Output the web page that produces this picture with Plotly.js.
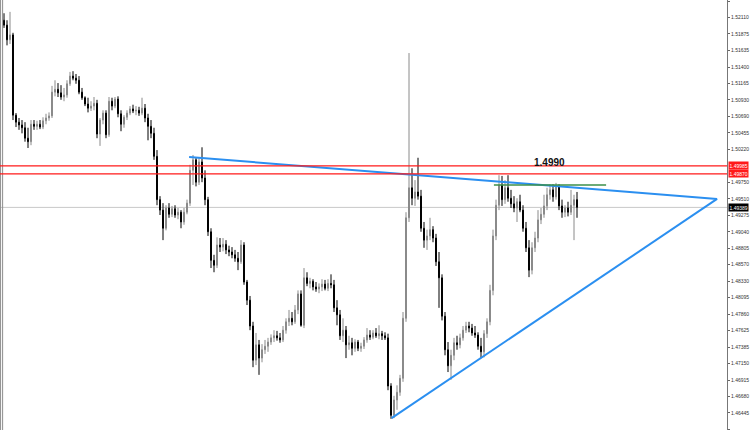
<!DOCTYPE html>
<html>
<head>
<meta charset="utf-8">
<script src="https://cdn.plot.ly/plotly-3.0.1.min.js"></script>
<style>
html,body{margin:0;padding:0;background:#fff;}
#chart{width:750px;height:430px;}
</style>
</head>
<body>
<div id="chart"></div>
<script>
// OHLC candles (price)
const openP = [1.5207,1.5200,1.5179,1.5186,1.5071,1.5061,1.5057,1.5053,1.5038,1.5033,
1.5058,1.5055,1.5058,1.5054,1.5063,1.5067,1.5070,1.5104,1.5108,1.5103,
1.5097,1.5100,1.5116,1.5127,1.5124,1.5121,1.5104,1.5096,1.5087,1.5081,
1.5084,1.5088,1.5044,1.5064,1.5074,1.5043,1.5091,1.5084,1.5094,1.5073,
1.5058,1.5068,1.5074,1.5080,1.5077,1.5078,1.5074,1.5081,1.5067,1.5055,
1.5045,1.5012,1.4950,1.4935,1.4909,1.4938,1.4929,1.4937,1.4928,1.4932,
1.4918,1.4932,1.4945,1.4992,1.5007,1.4975,1.5004,1.4981,1.4950,1.4904,
1.4863,1.4856,1.4885,1.4882,1.4886,1.4878,1.4875,1.4871,1.4866,1.4861,
1.4885,1.4832,1.4806,1.4769,1.4720,1.4742,1.4723,1.4735,1.4740,1.4746,
1.4752,1.4755,1.4752,1.4749,1.4763,1.4775,1.4780,1.4775,1.4792,1.4815,
1.4770,1.4838,1.4830,1.4833,1.4825,1.4822,1.4825,1.4829,1.4823,1.4830,
1.4828,1.4795,1.4785,1.4755,1.4763,1.4742,1.4745,1.4737,1.4746,1.4737,
1.4740,1.4749,1.4756,1.4753,1.4759,1.4755,1.4758,1.4755,1.4752,1.4683,
1.4641,1.4663,1.4674,1.4694,1.4780,1.4924,1.4967,1.4952,1.4961,1.4955,
1.4909,1.4892,1.4898,1.4907,1.4895,1.4861,1.4838,1.4783,1.4735,1.4712,
1.4727,1.4745,1.4742,1.4752,1.4763,1.4769,1.4766,1.4759,1.4756,1.4740,
1.4732,1.4758,1.4775,1.4820,1.4898,1.4942,1.4971,1.4950,1.4967,1.4952,
1.4944,1.4938,1.4947,1.4935,1.4909,1.4881,1.4849,1.4881,1.4895,1.4921,
1.4929,1.4941,1.4957,1.4964,1.4954,1.4968,1.4941,1.4932,1.4938,1.4932,
1.4942,1.4950];
const highP = [1.5217,1.5207,1.5219,1.5189,1.5074,1.5067,1.5064,1.5061,1.5053,1.5064,
1.5064,1.5063,1.5064,1.5068,1.5073,1.5075,1.5113,1.5121,1.5117,1.5114,
1.5110,1.5121,1.5133,1.5134,1.5130,1.5127,1.5110,1.5098,1.5096,1.5091,
1.5097,1.5093,1.5067,1.5078,1.5078,1.5097,1.5096,1.5097,1.5098,1.5078,
1.5071,1.5078,1.5084,1.5086,1.5084,1.5083,1.5096,1.5087,1.5073,1.5064,
1.5053,1.5021,1.4955,1.4945,1.4942,1.4945,1.4941,1.4942,1.4938,1.4935,
1.4938,1.4950,1.5000,1.5014,1.5011,1.5010,1.5025,1.4992,1.4954,1.4909,
1.4871,1.4896,1.4895,1.4895,1.4892,1.4884,1.4882,1.4878,1.4875,1.4892,
1.4889,1.4835,1.4812,1.4775,1.4759,1.4749,1.4743,1.4749,1.4752,1.4757,
1.4763,1.4762,1.4759,1.4769,1.4780,1.4792,1.4789,1.4799,1.4820,1.4820,
1.4852,1.4846,1.4838,1.4836,1.4832,1.4830,1.4836,1.4835,1.4836,1.4843,
1.4835,1.4806,1.4792,1.4780,1.4769,1.4755,1.4752,1.4750,1.4749,1.4745,
1.4753,1.4766,1.4763,1.4763,1.4766,1.4770,1.4762,1.4760,1.4758,1.4687,
1.4669,1.4684,1.4699,1.4789,1.4932,1.5160,1.4995,1.4978,1.5010,1.4964,
1.4918,1.4907,1.4924,1.4912,1.4901,1.4875,1.4843,1.4789,1.4746,1.4735,
1.4752,1.4755,1.4758,1.4769,1.4775,1.4775,1.4772,1.4769,1.4760,1.4752,
1.4763,1.4780,1.4828,1.4907,1.4950,1.4985,1.4984,1.4978,1.4985,1.4964,
1.4955,1.4952,1.4957,1.4942,1.4918,1.4892,1.4889,1.4904,1.4935,1.4938,
1.4957,1.4967,1.4972,1.4972,1.4974,1.4972,1.4950,1.4942,1.4947,1.4964,
1.4957,1.4961];
const lowP = [1.5196,1.5171,1.5173,1.5064,1.5054,1.5050,1.5045,1.5033,1.5024,1.5028,
1.5050,1.5050,1.5051,1.5051,1.5058,1.5063,1.5067,1.5098,1.5097,1.5093,
1.5091,1.5096,1.5113,1.5121,1.5116,1.5101,1.5093,1.5084,1.5075,1.5077,
1.5078,1.5038,1.5027,1.5058,1.5038,1.5040,1.5078,1.5081,1.5068,1.5048,
1.5053,1.5064,1.5071,1.5074,1.5071,1.5070,1.5071,1.5061,1.5035,1.5038,
1.5007,1.4942,1.4928,1.4892,1.4906,1.4924,1.4925,1.4924,1.4922,1.4909,
1.4914,1.4929,1.4941,1.4971,1.4969,1.4971,1.4975,1.4942,1.4898,1.4852,
1.4846,1.4852,1.4875,1.4876,1.4872,1.4869,1.4866,1.4861,1.4849,1.4858,
1.4828,1.4799,1.4763,1.4710,1.4713,1.4699,1.4717,1.4729,1.4732,1.4742,
1.4746,1.4748,1.4745,1.4746,1.4758,1.4769,1.4770,1.4772,1.4786,1.4768,
1.4766,1.4826,1.4823,1.4820,1.4818,1.4816,1.4819,1.4820,1.4819,1.4823,
1.4789,1.4770,1.4749,1.4746,1.4723,1.4735,1.4727,1.4732,1.4733,1.4732,
1.4736,1.4745,1.4749,1.4750,1.4752,1.4750,1.4749,1.4749,1.4677,1.4636,
1.4637,1.4649,1.4669,1.4689,1.4775,1.4918,1.4942,1.4941,1.4950,1.4904,
1.4881,1.4878,1.4892,1.4889,1.4855,1.4795,1.4777,1.4727,1.4703,1.4692,
1.4720,1.4735,1.4737,1.4748,1.4759,1.4760,1.4755,1.4752,1.4735,1.4723,
1.4724,1.4752,1.4770,1.4813,1.4892,1.4935,1.4941,1.4944,1.4947,1.4938,
1.4932,1.4918,1.4932,1.4904,1.4875,1.4839,1.4843,1.4875,1.4889,1.4915,
1.4924,1.4935,1.4950,1.4947,1.4950,1.4935,1.4924,1.4925,1.4926,1.4928,
1.4892,1.4924];
const closeP = [1.5200,1.5179,1.5186,1.5071,1.5061,1.5057,1.5053,1.5038,1.5033,1.5058,
1.5055,1.5058,1.5054,1.5063,1.5067,1.5070,1.5104,1.5108,1.5103,1.5097,
1.5100,1.5116,1.5127,1.5124,1.5121,1.5104,1.5096,1.5087,1.5081,1.5084,
1.5088,1.5044,1.5064,1.5074,1.5043,1.5091,1.5084,1.5094,1.5073,1.5058,
1.5068,1.5074,1.5080,1.5077,1.5078,1.5074,1.5081,1.5067,1.5055,1.5045,
1.5012,1.4950,1.4935,1.4909,1.4938,1.4929,1.4937,1.4928,1.4932,1.4918,
1.4932,1.4945,1.4992,1.5007,1.4975,1.5004,1.4981,1.4950,1.4904,1.4863,
1.4856,1.4885,1.4882,1.4886,1.4878,1.4875,1.4871,1.4866,1.4861,1.4885,
1.4832,1.4806,1.4769,1.4720,1.4742,1.4723,1.4735,1.4740,1.4746,1.4752,
1.4755,1.4752,1.4749,1.4763,1.4775,1.4780,1.4775,1.4792,1.4815,1.4770,
1.4838,1.4830,1.4833,1.4825,1.4822,1.4825,1.4829,1.4823,1.4830,1.4828,
1.4795,1.4785,1.4755,1.4763,1.4742,1.4745,1.4737,1.4746,1.4737,1.4740,
1.4749,1.4756,1.4753,1.4759,1.4755,1.4758,1.4755,1.4752,1.4683,1.4641,
1.4663,1.4674,1.4694,1.4780,1.4924,1.4967,1.4952,1.4961,1.4955,1.4909,
1.4892,1.4898,1.4907,1.4895,1.4861,1.4838,1.4783,1.4735,1.4712,1.4727,
1.4745,1.4742,1.4752,1.4763,1.4769,1.4766,1.4759,1.4756,1.4740,1.4732,
1.4758,1.4775,1.4820,1.4898,1.4942,1.4971,1.4950,1.4967,1.4952,1.4944,
1.4938,1.4947,1.4935,1.4909,1.4881,1.4849,1.4881,1.4895,1.4921,1.4929,
1.4941,1.4957,1.4964,1.4954,1.4968,1.4941,1.4932,1.4938,1.4932,1.4942,
1.4950,1.4939];

// price scale tick labels
const tickLabels = ['1.52345','1.52110','1.51875','1.51635','1.51400','1.51165','1.50930','1.50690','1.50455','1.50220',
'1.49750','1.49510','1.49275','1.49040','1.48805','1.48570','1.48330','1.48095','1.47860','1.47625',
'1.47385','1.47150','1.46915','1.46680','1.46445','1.46205'];

// horizontal levels
const resistLevels = [1.49985, 1.49870];
const currentPrice = 1.49389;

// drawn trendlines (bar index, price)
const upperX = [61.7, 237.7];
const upperY = [1.5011, 1.4951];
const lowerX = [129.2, 237.7];
const lowerY = [1.4637, 1.4951];
const greenX = [163.3, 200.7];
const greenY = [1.4971, 1.4971];
const noteText = '1.4990';
const noteX = 181.7;
const noteY = 1.5003;

const barIdx = openP.map((_, i) => i);

const traces = [
  {
    type: 'candlestick',
    x: barIdx, open: openP, high: highP, low: lowP, close: closeP,
    increasing: {line: {color: '#8a8a8a', width: 1}, fillcolor: '#8a8a8a'},
    decreasing: {line: {color: '#000000', width: 1}, fillcolor: '#000000'},
    whiskerwidth: 0,
    hoverinfo: 'skip',
    showlegend: false
  },
  {type: 'scatter', mode: 'lines', x: upperX, y: upperY, line: {color: '#2b8ff0', width: 2}, showlegend: false, hoverinfo: 'skip'},
  {type: 'scatter', mode: 'lines', x: lowerX, y: lowerY, line: {color: '#2b8ff0', width: 2}, showlegend: false, hoverinfo: 'skip'},
  {type: 'scatter', mode: 'lines', x: greenX, y: greenY, line: {color: '#3c8f4a', width: 1.5}, showlegend: false, hoverinfo: 'skip'}
];

const shapes = [
  {type: 'line', xref: 'paper', yref: 'y', x0: 0, x1: 1, y0: currentPrice, y1: currentPrice, line: {color: '#c8c8c8', width: 1}, layer: 'below'},
  {type: 'line', xref: 'paper', yref: 'paper', x0: 0.0008, x1: 0.0008, y0: 0, y1: 1, line: {color: '#8c8c8c', width: 1}},
  {type: 'line', xref: 'paper', yref: 'paper', x0: 0.0036, x1: 0.0036, y0: 0, y1: 1, line: {color: '#8c8c8c', width: 1}}
];
resistLevels.forEach(v => shapes.push({type: 'line', xref: 'paper', yref: 'y', x0: 0, x1: 1, y0: v, y1: v, line: {color: '#ff1a1a', width: 1.3}}));

const annotations = [
  {x: noteX, y: noteY, xref: 'x', yref: 'y', text: '<b>' + noteText + '</b>', showarrow: false,
   font: {family: 'Liberation Sans, Arial, sans-serif', size: 10, color: '#111'}, xanchor: 'center', yanchor: 'middle'}
];
resistLevels.forEach(v => annotations.push({x: 1, y: v, xref: 'paper', yref: 'y', xanchor: 'left', yanchor: 'middle', xshift: 1,
  text: v.toFixed(5), showarrow: false, bgcolor: '#ff1a1a', borderpad: 0.5,
  font: {family: 'Liberation Sans, Arial, sans-serif', size: 5, color: '#ffffff'}}));
annotations.push({x: 1, y: currentPrice, xref: 'paper', yref: 'y', xanchor: 'left', yanchor: 'middle', xshift: 1,
  text: currentPrice.toFixed(5), showarrow: false, bgcolor: '#000000', borderpad: 0.5,
  font: {family: 'Liberation Sans, Arial, sans-serif', size: 5, color: '#ffffff'}});

const layout = {
  width: 750, height: 430,
  margin: {l: 0, r: 23, t: 0, b: 0, pad: 0},
  paper_bgcolor: '#ffffff', plot_bgcolor: '#ffffff',
  showlegend: false,
  boxgap: 0.55,
  xaxis: {range: [-1.333, 241], visible: false, rangeslider: {visible: false}, fixedrange: true},
  yaxis: {
    side: 'right', range: [1.4620, 1.5236],
    tickmode: 'array', tickvals: tickLabels.map(Number), ticktext: tickLabels,
    tickfont: {family: 'Liberation Sans, Arial, sans-serif', size: 5, color: '#333'},
    ticks: 'outside', ticklen: 2, tickcolor: '#666',
    showline: true, linecolor: '#777', linewidth: 1,
    showgrid: false, zeroline: false, fixedrange: true
  },
  shapes: shapes,
  annotations: annotations
};

Plotly.newPlot('chart', traces, layout, {displayModeBar: false, staticPlot: true});
</script>
</body>
</html>
